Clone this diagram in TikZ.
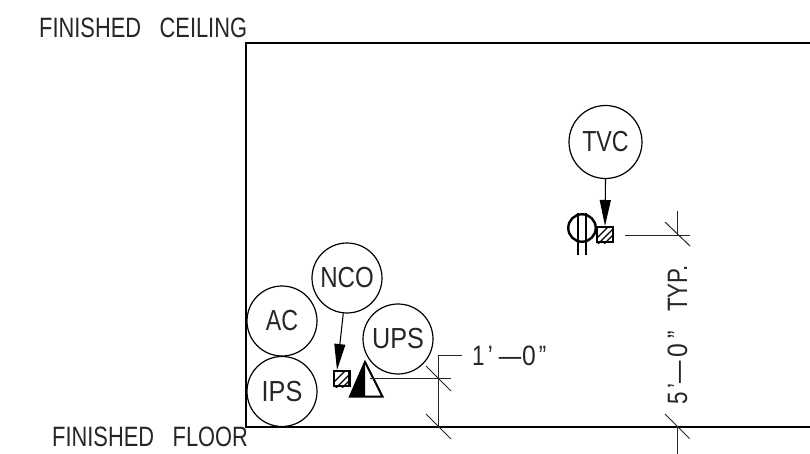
\documentclass[tikz,border=0pt]{standalone}
\usepackage{fontspec}
\setmainfont{Liberation Sans}
\usetikzlibrary{arrows.meta}
\newcommand{\narrowtext}[2]{\scalebox{#1}[1]{#2}}
\tikzset{
  x=1pt,y=-1pt,
  thin line/.style={line width=1pt,black!85},
  wall/.style={line width=1.5pt,black},
  bubble/.style={circle,draw=black,line width=1.2pt,minimum size=70pt,inner sep=0pt,font=\fontsize{29}{29}\selectfont,text=black!85},
  lbl/.style={inner sep=0pt,font=\fontsize{28}{28}\selectfont,text=black!85},
  leader/.style={line width=1.1pt,-{Triangle[length=26pt,width=11pt]}},
  outlet/.style={draw=black,line width=2.4pt,minimum size=15.5pt,inner sep=0pt,fill=white},
  hatch/.style={line width=1.2pt,black}
}
\begin{document}
\begin{tikzpicture}
\useasboundingbox (0,0) rectangle (810,454);
% room
\coordinate (cl) at (246,43);
\coordinate (cr) at (810,43);
\coordinate (fl) at (246,427);
\coordinate (fr) at (810,427);
\draw[wall] (cr) -- (cl) -- (fl) -- (fr);
\node[lbl,anchor=base west] (ceil) at (39,38) {\narrowtext{.78}{FINISHED\hspace{16pt} CEILING}};
\node[lbl,anchor=base west] (floor) at (52,446) {\narrowtext{.78}{FINISHED\hspace{16pt} FLOOR}};
% bubbles
\node[bubble,minimum size=73pt] (tvc) at (605.5,142) {\narrowtext{.8}{TVC}};
\node[bubble] (nco) at (347,278) {\narrowtext{.83}{NCO}};
\node[bubble] (ac) at (282,321) {\narrowtext{.8}{AC}};
\node[bubble] (ips) at (282,391.5) {\narrowtext{.87}{IPS}};
\node[bubble] (ups) at (398,339) {\narrowtext{.87}{UPS}};
% floor-level outlets
\node[outlet] (sq1) at (341.7,378.5) {};
\begin{scope}
\clip (sq1.south west) rectangle (sq1.north east);
\draw[hatch] (334,382) -- (345,371);
\draw[hatch] (335,389) -- (352,372);
\draw[hatch] (342,388) -- (352,378);
\end{scope}
\node[outlet,fill=none] at (341.7,378.5) {};
\coordinate (a1) at (337,370);
\draw[leader] (nco.264) -- (a1);
% data outlet triangle
\coordinate (tt) at (365,362);
\coordinate (tl) at (350,396.5);
\coordinate (tr) at (382.5,396.5);
\coordinate (tm) at (365,396.5);
\fill[black] (tt) -- (tl) -- (tm) -- cycle;
\draw[line width=2pt,line join=miter] (tt) -- (tr) -- (tl) -- cycle;
% 1'-0" dim
\coordinate (d1) at (370,378);
\coordinate (d2) at (451,378);
\coordinate (d3) at (462,355);
\coordinate (d4) at (438,355);
\coordinate (d5) at (438,427);
\draw[thin line] (d1) -- (d2);
\draw[thin line] (d3) -- (d4) -- (d5);
\coordinate (t1a) at (426,366);
\coordinate (t1b) at (451,391);
\coordinate (t2a) at (426,414);
\coordinate (t2b) at (451,439);
\draw[thin line] (t1a) -- (t1b);
\draw[thin line] (t2a) -- (t2b);
\node[lbl,anchor=base west] (dima) at (472,365) {\narrowtext{.8}{1\hspace{4pt}'\hspace{7.5pt}—\hspace{1pt}\scalebox{1.1}[1]{0}\hspace{4pt}”}};
% TVC group
\node[outlet] (sq2) at (605,234.5) {};
\begin{scope}
\clip (sq2.south west) rectangle (sq2.north east);
\draw[hatch] (597,238) -- (608,227);
\draw[hatch] (597,245) -- (614,228);
\draw[hatch] (604,244) -- (615,233);
\end{scope}
\node[outlet,fill=none] at (605,234.5) {};
\coordinate (a2) at (605,226);
\draw[leader] (tvc.south) -- (a2);
\node[circle,draw=black,line width=2.4pt,minimum size=27.5pt,inner sep=0pt] (ph) at (582,228) {};
\coordinate (p1a) at (577.5,213);
\coordinate (p1b) at (577.5,255);
\coordinate (p2a) at (586,213);
\coordinate (p2b) at (586,255);
\draw[line width=2pt] (p1a) -- (p1b);
\draw[line width=2pt] (p2a) -- (p2b);
% 5'-0" dim
\coordinate (e1) at (625,235);
\coordinate (e2) at (690,235);
\coordinate (e3) at (677,211);
\coordinate (e4) at (677,235);
\coordinate (e5) at (665,222);
\coordinate (e6) at (690,246);
\coordinate (e7) at (677,427);
\coordinate (e8) at (677,454);
\coordinate (e9) at (665,414);
\coordinate (e10) at (689.5,438.5);
\draw[thin line] (e1) -- (e2);
\draw[thin line] (e3) -- (e4);
\draw[thin line] (e5) -- (e6);
\draw[thin line] (e7) -- (e8);
\draw[thin line] (e9) -- (e10);
\node[lbl,anchor=base west,rotate=90] (dimb) at (687,405) {\narrowtext{.8}{5\hspace{5pt}'\hspace{0pt}—\hspace{4pt}\scalebox{1.1}[1]{0}\hspace{7pt}”\hspace{24pt}TYP.}};
\end{tikzpicture}
\end{document}
